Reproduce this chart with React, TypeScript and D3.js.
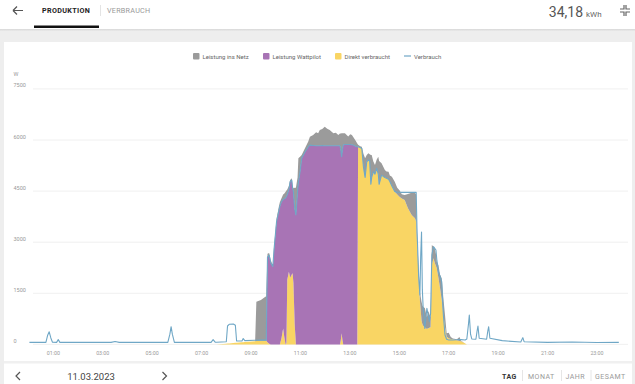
import React from "react";
import * as d3 from "d3";

const times = ["00:02","00:42","00:46","00:50","00:54","00:58","01:08","01:12","01:16","03:20","03:30","03:40","05:38","05:43","05:46","05:49","05:54","07:23","07:28","07:33","07:36","08:00","08:03","08:07","08:17","08:22","08:25","08:38","08:41","08:45","09:10","09:13","09:24","09:34","09:37","09:40","09:44","09:48","09:53","09:56","10:02","10:08","10:10","10:14","10:18","10:21","10:24","10:26","10:28","10:32","10:35","10:39","10:41","10:43","10:46","10:49","10:53","10:55","10:59","11:03","11:11","11:19","11:23","11:31","11:38","11:43","11:47","11:53","11:59","12:05","12:11","12:20","12:26","12:32","12:36","12:38","12:40","12:42","12:44","12:48","12:56","13:01","13:05","13:09","13:13","13:18","13:20","13:25","13:29","13:33","13:37","13:41","13:45","13:48","13:51","13:53","13:57","14:01","14:05","14:09","14:11","14:17","14:25","14:29","14:34","14:37","14:42","14:49","14:55","15:01","15:06","15:13","15:21","15:30","15:38","15:41","15:43","15:47","15:50","15:52","15:54","15:56","15:58","16:02","16:07","16:11","16:13","16:16","16:18","16:19","16:23","16:26","16:29","16:31","16:35","16:39","16:43","16:47","16:51","16:55","17:00","17:05","17:10","17:20","17:26","17:30","17:40","17:44","17:48","17:50","17:53","17:56","18:06","18:09","18:11","18:14","18:32","18:35","18:37","18:40","19:10","19:55","19:58","20:00","20:03","21:00","22:00","23:00","23:53"];

const direkt = [0,0,0,0,0,0,0,0,0,0,0,0,0,0,0,0,0,0,0,0,0,20,25,30,40,45,50,60,65,70,95,100,105,110,110,60,20,0,0,0,0,0,0,180,470,200,0,40,1900,2130,1960,2050,2090,1800,600,0,0,0,0,0,0,0,0,0,0,0,0,0,0,0,0,0,0,0,0,120,330,120,0,0,0,0,0,0,0,0,5800,5780,5750,5170,4875,5360,5410,5400,4680,4900,5070,5000,5170,5000,4680,4970,4900,4875,4850,4776,4650,4482,4400,4330,4280,4238,3994,3798,3700,3600,3000,1900,1300,1000,700,600,550,500,450,480,490,500,1500,2330,2527,2400,2300,2233,1950,1646,1300,863,500,226,180,160,150,120,100,90,30,0,0,0,0,0,0,0,0,0,0,0,0,0,0,0,0,0,0,0,0,0,0];

const wattpilot = [0,0,0,0,0,0,0,0,0,0,0,0,0,0,0,0,0,0,0,0,0,0,0,0,0,0,0,0,0,0,0,0,0,0,0,2500,2600,2400,2280,2800,3590,3950,4050,4010,3780,4080,4300,4300,2500,2420,2816,2775,2500,2682,3400,3798,4500,4750,5060,5462,5650,5803,5850,5840,5830,5830,5830,5840,5830,5830,5830,5830,5830,5830,5830,5600,5180,5600,5860,5870,5870,5870,5860,5850,5820,5800,0,0,0,0,0,0,0,0,0,0,0,0,0,0,0,0,0,0,0,0,0,0,0,0,0,0,0,0,0,0,0,0,0,0,0,0,0,0,0,0,0,0,0,0,0,0,0,0,0,0,0,0,0,0,0,0,0,0,0,0,0,0,0,0,0,0,0,0,0,0,0,0,0,0,0,0,0,0,0,0,0,0,0];

const netz = [0,0,0,0,0,0,0,0,0,0,0,0,0,0,0,0,0,0,0,0,0,0,0,0,0,0,0,0,0,0,0,1150,1200,1280,1300,100,60,60,40,80,100,120,120,100,150,150,180,180,150,100,50,55,50,100,600,800,400,712,450,100,106,150,246,306,400,366,463,480,560,500,463,366,380,316,360,470,690,480,340,330,230,300,290,220,180,100,60,40,50,430,590,200,200,180,880,660,300,265,250,509,700,345,219,200,219,180,272,294,200,190,130,150,420,650,750,800,300,300,250,400,550,550,550,570,350,500,400,300,500,590,350,420,350,200,380,400,640,500,363,100,160,60,20,30,120,20,0,0,0,0,0,0,0,0,0,0,0,0,0,0,0,0,0,0,0,0,0,0,0];

const verbrauch = [60,60,260,370,190,65,60,140,60,60,85,60,60,300,520,300,60,60,140,65,65,80,540,590,600,560,100,100,170,110,120,120,125,125,125,2560,2620,2400,2290,2800,3600,3950,4050,4190,4250,4280,4300,4340,4400,4550,4776,4825,4590,4482,4000,3798,4500,4750,5060,5462,5650,5803,5850,5840,5830,5830,5830,5840,5830,5830,5830,5830,5830,5830,5830,5720,5510,5720,5860,5870,5870,5870,5860,5850,5820,5800,5800,5780,5750,5200,4900,5360,5410,5400,4700,4900,5070,5000,5170,5000,4700,4970,4900,4880,4850,4780,4650,4490,4470,4465,4464,4464,4464,4464,4464,4464,3400,2000,1450,2600,3300,1600,1060,470,1060,800,666,900,2000,2624,2868,2820,2771,2500,2134,2000,1840,863,276,150,130,130,130,135,140,140,130,160,600,863,300,160,150,400,540,180,150,400,520,180,110,70,150,197,80,60,70,55,60];

const yTicks = [0, 1500, 3000, 4500, 6000, 7500];
const xTickLabels = ["01:00","03:00","05:00","07:00","09:00","11:00","13:00","15:00","17:00","19:00","21:00","23:00"];
const seriesKeys = ["direkt", "wattpilot", "netz"];
const legendLabels = ["Leistung ins Netz", "Leistung Wattpilot", "Direkt verbraucht", "Verbrauch"];

const COLORS: Record<string, string> = {
  netz: "#9b9b9b",
  wattpilot: "#a874b5",
  direkt: "#f9d564",
  verbrauch: "#6fa7c6",
};

const toH = (t: string) => {
  const [h, m] = t.split(":").map(Number);
  return h + m / 60;
};

const rows = times.map((t, i) => ({
  h: toH(t),
  direkt: direkt[i],
  wattpilot: wattpilot[i],
  netz: netz[i],
  verbrauch: verbrauch[i],
}));

export default function App() {
  const W = 635, H = 384;
  const x = d3.scaleLinear().domain([0, 24]).range([28.6, 621.7]);
  const y = d3.scaleLinear().domain([0, 7500]).range([344.4, 88.9]);
  const stack = d3.stack<any>().keys(seriesKeys);
  const stacked = stack(rows);
  const area = d3
    .area<any>()
    .x((d) => x(d.data.h))
    .y0((d) => y(d[0]))
    .y1((d) => y(d[1]))
    .curve(d3.curveLinear);
  const line = d3
    .line<any>()
    .x((d) => x(d.h))
    .y((d) => y(d.verbrauch))
    .curve(d3.curveLinear);

  const font = "Roboto, 'Noto Sans', sans-serif";
  const legendItems = [
    { key: "netz", label: legendLabels[0], x: 193 },
    { key: "wattpilot", label: legendLabels[1], x: 263 },
    { key: "direkt", label: legendLabels[2], x: 335 },
  ];

  return (
    <div style={{ position: "fixed", left: 0, top: 0 }}>
      <svg width={W} height={H} style={{ display: "block", fontFamily: font }}>
        <defs>
          <linearGradient id="hs" x1="0" y1="0" x2="0" y2="1">
            <stop offset="0" stopColor="#d8d8d8" />
            <stop offset="1" stopColor="#eeeeee" />
          </linearGradient>
        </defs>
        <rect x={0} y={0} width={W} height={H} fill="#eeeeee" />
        {/* header */}
        <rect x={0} y={0} width={W} height={29} fill="#ffffff" />
        <rect x={0} y={29} width={W} height={2.5} fill="url(#hs)" />
        <path d="M13 10.5 H23 M13 10.5 L17 6.5 M13 10.5 L17 14.5" stroke="#555" strokeWidth={1.2} fill="none" />
        <text x={42} y={13} fontSize={7.2} fontWeight={700} fill="#222" letterSpacing={0.35}>PRODUKTION</text>
        <rect x={34} y={25.5} width={65} height={2.5} fill="#111" />
        <line x1={100.5} y1={5} x2={100.5} y2={16} stroke="#ddd" strokeWidth={0.8} />
        <text x={107} y={13} fontSize={7.2} fill="#999" letterSpacing={0.25}>VERBRAUCH</text>
        <text x={583} y={16.5} fontSize={14} fill="#555" textAnchor="end">34,18</text>
        <text x={586} y={16.5} fontSize={8} fill="#666">kWh</text>
        <path d="M624 5 V9 H620 M626 5 V9 H630 M620 12 H624 V16 M630 12 H626 V16" stroke="#666" strokeWidth={1.2} fill="none" />

        {/* card */}
        <rect x={4} y={42} width={628} height={342} fill="#ffffff" />
        <rect x={4} y={361} width={628} height={2.5} fill="#f0f0f0" />

        {/* legend */}
        {legendItems.map((it) => (
          <g key={it.key}>
            <rect x={it.x} y={53} width={6.5} height={6.5} rx={1} fill={COLORS[it.key]} />
            <text x={it.x + 9.5} y={58.5} fontSize={6} fill="#666">{it.label}</text>
          </g>
        ))}
        <line x1={404} x2={411} y1={56} y2={56} stroke={COLORS.verbrauch} strokeWidth={1.2} />
        <text x={414} y={58.5} fontSize={6} fill="#666">{legendLabels[3]}</text>

        {/* y axis */}
        <text x={13.5} y={75.5} fontSize={5.5} fill="#999">W</text>
        {yTicks.map((t) => (
          <g key={t}>
            <line x1={33} x2={628} y1={y(t)} y2={y(t)} stroke="#ececec" strokeWidth={0.8} />
            <text x={13.5} y={y(t) - 1.5} fontSize={5.5} fill="#999">{t}</text>
          </g>
        ))}
        {/* x axis labels */}
        {xTickLabels.map((t) => (
          <text key={t} x={x(toH(t))} y={354.5} fontSize={5.3} fill="#999" textAnchor="middle">{t}</text>
        ))}

        {/* areas */}
        {stacked.map((s: any) => (
          <path key={s.key} d={area(s) || ""} fill={COLORS[s.key]} />
        ))}
        <path d={line(rows) || ""} fill="none" stroke={COLORS.verbrauch} strokeWidth={1.1} strokeLinejoin="round" />

        {/* footer */}
        <path d="M20 372 L16 376 L20 380" stroke="#555" strokeWidth={1.2} fill="none" />
        <text x={91} y={379.5} fontSize={9.5} fill="#444" textAnchor="middle">11.03.2023</text>
        <path d="M162.5 372 L166.5 376 L162.5 380" stroke="#555" strokeWidth={1.2} fill="none" />
        <text x={502} y={379} fontSize={7} fontWeight={700} fill="#333" letterSpacing={0.5}>TAG</text>
        <line x1={522.5} x2={522.5} y1={370} y2={381} stroke="#e0e0e0" strokeWidth={0.8} />
        <text x={528} y={379} fontSize={7} fill="#999" letterSpacing={0.5}>MONAT</text>
        <line x1={561.5} x2={561.5} y1={370} y2={381} stroke="#e0e0e0" strokeWidth={0.8} />
        <text x={565.5} y={379} fontSize={7} fill="#999" letterSpacing={0.5}>JAHR</text>
        <line x1={591} x2={591} y1={370} y2={381} stroke="#e0e0e0" strokeWidth={0.8} />
        <text x={595} y={379} fontSize={7} fill="#999" letterSpacing={0.5}>GESAMT</text>
      </svg>
    </div>
  );
}
